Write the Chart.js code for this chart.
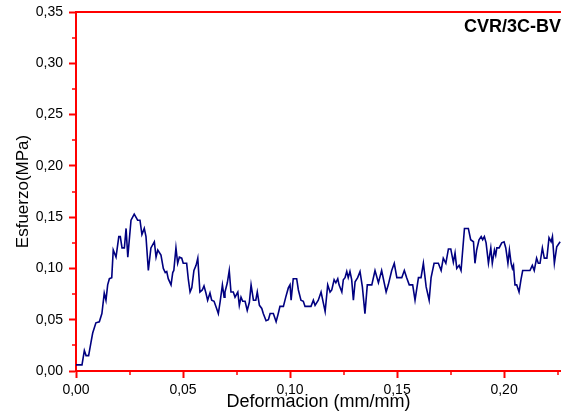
<!DOCTYPE html>
<html>
<head>
<meta charset="utf-8">
<script src="https://cdn.jsdelivr.net/npm/chart.js@4"></script>
<style>
  html, body { margin: 0; padding: 0; background: #fff; }
  #wrap { width: 561px; height: 415px; }
</style>
</head>
<body>
<div id="wrap"><canvas id="stressChart" width="561" height="415"></canvas></div>
<script>
const strain = [0, 0.0028, 0.0039, 0.0047, 0.0059, 0.0070, 0.0078, 0.0093, 0.0109, 0.0121,
  0.0132, 0.0140, 0.0148, 0.0156, 0.0167, 0.0174, 0.0187, 0.0200, 0.0207, 0.0215,
  0.0226, 0.0234, 0.0242, 0.0257, 0.0272, 0.0280, 0.0288, 0.0299, 0.0308, 0.0319,
  0.0327, 0.0338, 0.0350, 0.0366, 0.0374, 0.0382, 0.0397, 0.0408, 0.0417, 0.0424,
  0.0431, 0.0444, 0.0452, 0.0457, 0.0467, 0.0475, 0.0483, 0.0494, 0.0501, 0.0517,
  0.0525, 0.0533, 0.0541, 0.0551, 0.0561, 0.0569, 0.0579, 0.0590, 0.0598, 0.0607,
  0.0615, 0.0626, 0.0634, 0.0645, 0.0657, 0.0665, 0.0673, 0.0684, 0.0692, 0.0696,
  0.0707, 0.0716, 0.0724, 0.0735, 0.0743, 0.0756, 0.0763, 0.0771, 0.0779, 0.0790,
  0.0800, 0.0810, 0.0818, 0.0829, 0.0840, 0.0847, 0.0857, 0.0868, 0.0875, 0.0888,
  0.0899, 0.0907, 0.0922, 0.0935, 0.0945, 0.0953, 0.0969, 0.0980, 0.0992, 0.1000,
  0.1005, 0.1015, 0.1031, 0.1039, 0.1051, 0.1062, 0.1070, 0.1098, 0.1109, 0.1117,
  0.1132, 0.1145, 0.1156, 0.1164, 0.1176, 0.1187, 0.1195, 0.1206, 0.1214, 0.1223,
  0.1229, 0.1242, 0.1249, 0.1257, 0.1265, 0.1272, 0.1280, 0.1288, 0.1296, 0.1304,
  0.1316, 0.1327, 0.1338, 0.1350, 0.1361, 0.1382, 0.1397, 0.1413, 0.1428, 0.1449,
  0.1459, 0.1475, 0.1487, 0.1499, 0.1522, 0.1534, 0.1545, 0.1557, 0.1573, 0.1584,
  0.1600, 0.1612, 0.1623, 0.1636, 0.1650, 0.1659, 0.1673, 0.1693, 0.1706, 0.1716,
  0.1728, 0.1740, 0.1751, 0.1763, 0.1771, 0.1779, 0.1790, 0.1799, 0.1815, 0.1833,
  0.1844, 0.1857, 0.1864, 0.1872, 0.1883, 0.1893, 0.1900, 0.1908, 0.1916, 0.1927,
  0.1938, 0.1945, 0.1955, 0.1961, 0.1966, 0.1977, 0.1989, 0.2000, 0.2008, 0.2018,
  0.2025, 0.2033, 0.2039, 0.2044, 0.2051, 0.2059, 0.2070, 0.2079, 0.2087, 0.2121,
  0.2132, 0.2141, 0.2152, 0.2160, 0.2168, 0.2179, 0.2188, 0.2200, 0.2210, 0.2220,
  0.2226, 0.2235, 0.2246, 0.2262];

const stress = [0.006, 0.006, 0.020, 0.015, 0.015, 0.028, 0.037, 0.047, 0.048, 0.056,
  0.076, 0.069, 0.084, 0.090, 0.091, 0.118, 0.111, 0.131, 0.131, 0.120,
  0.120, 0.139, 0.111, 0.147, 0.153, 0.150, 0.147, 0.147, 0.133, 0.139,
  0.131, 0.098, 0.120, 0.126, 0.111, 0.118, 0.113, 0.100, 0.096, 0.097,
  0.090, 0.084, 0.096, 0.098, 0.120, 0.105, 0.111, 0.110, 0.105, 0.105,
  0.089, 0.077, 0.081, 0.098, 0.103, 0.110, 0.077, 0.079, 0.083, 0.076,
  0.069, 0.076, 0.069, 0.068, 0.061, 0.056, 0.067, 0.084, 0.072, 0.077,
  0.086, 0.098, 0.077, 0.077, 0.072, 0.077, 0.064, 0.072, 0.068, 0.068,
  0.059, 0.067, 0.084, 0.069, 0.069, 0.077, 0.064, 0.061, 0.056, 0.049,
  0.050, 0.056, 0.056, 0.048, 0.056, 0.063, 0.063, 0.072, 0.081, 0.084,
  0.069, 0.090, 0.090, 0.079, 0.069, 0.068, 0.063, 0.063, 0.069, 0.064,
  0.069, 0.077, 0.066, 0.058, 0.084, 0.077, 0.079, 0.089, 0.086, 0.090,
  0.084, 0.077, 0.089, 0.091, 0.097, 0.091, 0.097, 0.089, 0.069, 0.087,
  0.091, 0.097, 0.082, 0.056, 0.084, 0.084, 0.098, 0.086, 0.098, 0.077,
  0.084, 0.098, 0.105, 0.091, 0.091, 0.098, 0.091, 0.084, 0.084, 0.069,
  0.091, 0.091, 0.105, 0.082, 0.069, 0.091, 0.105, 0.105, 0.098, 0.110,
  0.105, 0.119, 0.119, 0.106, 0.115, 0.100, 0.103, 0.098, 0.139, 0.139,
  0.128, 0.126, 0.105, 0.118, 0.128, 0.131, 0.128, 0.131, 0.125, 0.105,
  0.120, 0.105, 0.118, 0.113, 0.120, 0.120, 0.125, 0.126, 0.120, 0.105,
  0.118, 0.105, 0.100, 0.103, 0.084, 0.084, 0.077, 0.089, 0.098, 0.098,
  0.103, 0.098, 0.110, 0.105, 0.105, 0.120, 0.110, 0.110, 0.130, 0.126,
  0.131, 0.105, 0.121, 0.126];

const xTicks = [0, 0.05, 0.10, 0.15, 0.20];
const xMinorTicks = [0.025, 0.075, 0.125, 0.175, 0.225];
const yTicks = [0, 0.05, 0.10, 0.15, 0.20, 0.25, 0.30, 0.35];
const yMinorTicks = [0.025, 0.075, 0.125, 0.175, 0.225, 0.275, 0.325];

const axisRed = '#ff0000';
const fontFamily = '"Liberation Sans", Arial, sans-serif';
const fmt = v => Number(v).toFixed(2).replace('.', ',');

// minor ticks, top frame line and the sample label
const decorations = {
  id: 'decorations',
  afterDraw(chart) {
    const { ctx, chartArea, scales } = chart;
    ctx.save();
    ctx.strokeStyle = axisRed;
    ctx.lineWidth = 2;
    ctx.beginPath();
    ctx.moveTo(chartArea.left, chartArea.top);
    ctx.lineTo(chartArea.right, chartArea.top);
    ctx.stroke();
    ctx.lineWidth = 1.5;
    xMinorTicks.forEach(v => {
      const px = Math.round(scales.x.getPixelForValue(v));
      ctx.beginPath();
      ctx.moveTo(px, chartArea.bottom);
      ctx.lineTo(px, chartArea.bottom + 4);
      ctx.stroke();
    });
    yMinorTicks.forEach(v => {
      const py = Math.round(scales.y.getPixelForValue(v));
      ctx.beginPath();
      ctx.moveTo(chartArea.left, py);
      ctx.lineTo(chartArea.left - 4, py);
      ctx.stroke();
    });
    ctx.fillStyle = '#000';
    ctx.font = 'bold 18px ' + fontFamily;
    ctx.textAlign = 'right';
    ctx.textBaseline = 'middle';
    ctx.fillText('CVR/3C-BV', 561, 27);
    ctx.restore();
  }
};

new Chart(document.getElementById('stressChart'), {
  type: 'line',
  data: {
    datasets: [
      {
        label: 'CVR/3C-BV',
        data: strain.map((x, i) => ({ x: x, y: stress[i] })),
        borderColor: '#000080',
        borderWidth: 1.6,
        pointRadius: 0,
        tension: 0,
        fill: false,
      },
    ],
  },
  options: {
    responsive: false,
    animation: false,
    layout: { padding: { top: 12, right: 0, bottom: 0, left: 0 } },
    scales: {
      x: {
        type: 'linear',
        min: 0,
        max: 0.2266,
        afterBuildTicks: scale => { scale.ticks = xTicks.map(v => ({ value: v })); },
        afterFit: scale => {
          scale.height = 44;
          scale.paddingLeft = 0;
          scale.paddingRight = 0;
        },
        ticks: {
          callback: v => fmt(v),
          color: '#000',
          padding: 4,
          maxRotation: 0,
          font: { family: fontFamily, size: 14 },
        },
        grid: {
          drawOnChartArea: false,
          drawTicks: true,
          tickLength: 7,
          tickColor: axisRed,
          tickWidth: 2,
        },
        border: { color: axisRed, width: 2 },
        title: {
          display: true,
          text: 'Deformacion (mm/mm)',
          color: '#000',
          padding: { top: 0, bottom: 2 },
          font: { family: fontFamily, size: 18 },
        },
      },
      y: {
        min: 0,
        max: 0.35,
        afterBuildTicks: scale => { scale.ticks = yTicks.map(v => ({ value: v })); },
        afterFit: scale => {
          scale.width = 76;
          scale.paddingTop = 0;
          scale.paddingBottom = 0;
        },
        ticks: {
          callback: v => fmt(v),
          color: '#000',
          padding: 6,
          font: { family: fontFamily, size: 14 },
        },
        grid: {
          drawOnChartArea: false,
          drawTicks: true,
          tickLength: 7,
          tickColor: axisRed,
          tickWidth: 2,
        },
        border: { color: axisRed, width: 2 },
        title: {
          display: true,
          text: 'Esfuerzo(MPa)',
          color: '#000',
          padding: { top: 13, bottom: 0 },
          font: { family: fontFamily, size: 17 },
        },
      },
    },
    plugins: {
      legend: { display: false },
      tooltip: { enabled: false },
    },
  },
  plugins: [decorations],
});
</script>
</body>
</html>
